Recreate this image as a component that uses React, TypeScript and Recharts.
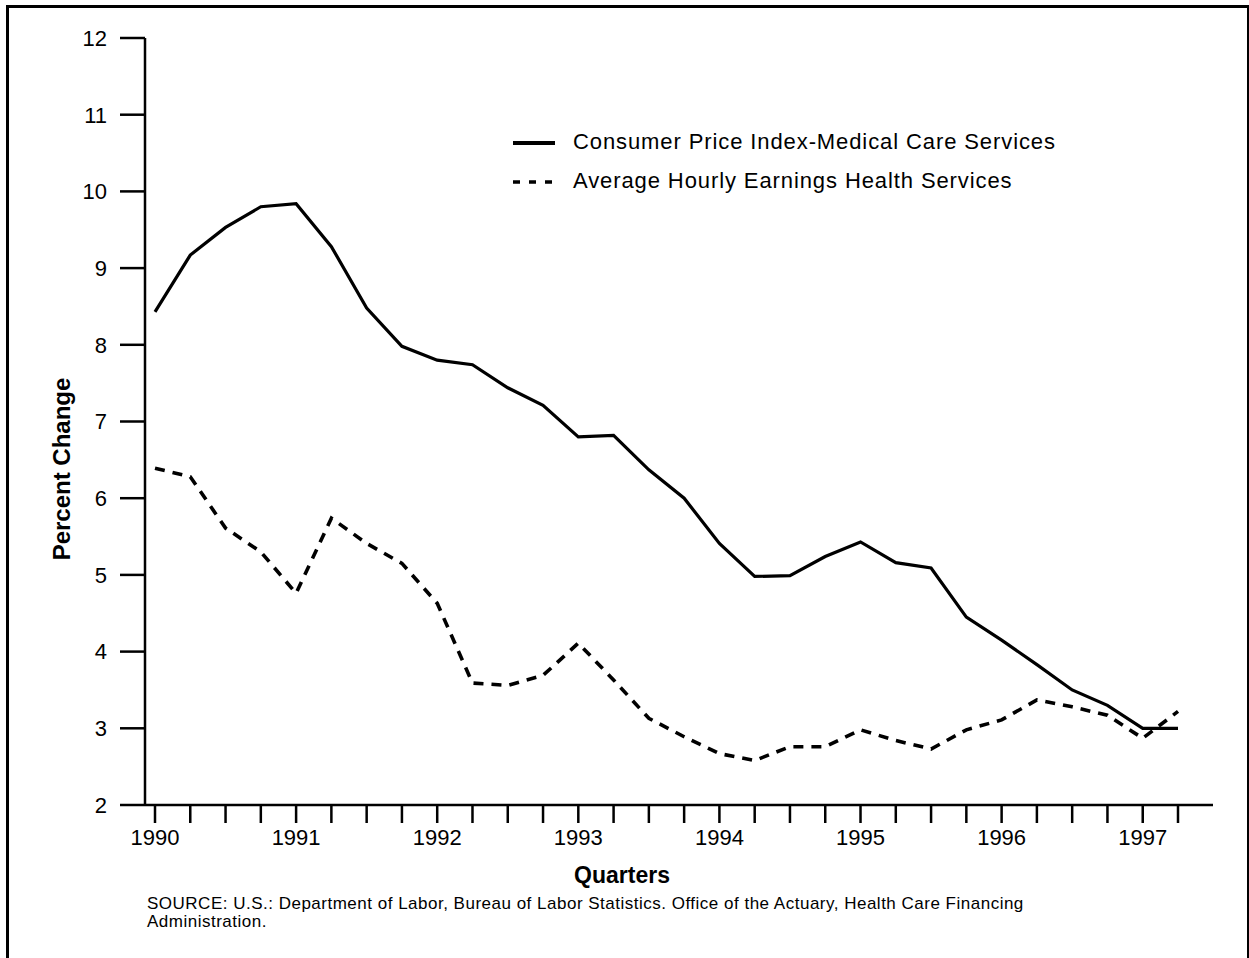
import { LineChart, Line, XAxis, YAxis } from 'recharts';

const quarters = [
  '1990 Q1', '1990 Q2', '1990 Q3', '1990 Q4',
  '1991 Q1', '1991 Q2', '1991 Q3', '1991 Q4',
  '1992 Q1', '1992 Q2', '1992 Q3', '1992 Q4',
  '1993 Q1', '1993 Q2', '1993 Q3', '1993 Q4',
  '1994 Q1', '1994 Q2', '1994 Q3', '1994 Q4',
  '1995 Q1', '1995 Q2', '1995 Q3', '1995 Q4',
  '1996 Q1', '1996 Q2', '1996 Q3', '1996 Q4',
  '1997 Q1', '1997 Q2',
];

// Consumer Price Index-Medical Care Services
const cpiMedical = [
  8.43, 9.17, 9.53, 9.8,
  9.84, 9.28, 8.48, 7.98,
  7.8, 7.74, 7.44, 7.21,
  6.8, 6.82, 6.37, 6.0,
  5.41, 4.98, 4.99, 5.24,
  5.43, 5.16, 5.09, 4.45,
  4.15, 3.83, 3.5, 3.3,
  3.0, 3.0,
];

// Average Hourly Earnings Health Services
const hourlyEarnings = [
  6.39, 6.28, 5.61, 5.3,
  4.76, 5.74, 5.41, 5.15,
  4.63, 3.59, 3.56, 3.69,
  4.11, 3.63, 3.13, 2.89,
  2.67, 2.58, 2.76, 2.76,
  2.98, 2.84, 2.73, 2.98,
  3.11, 3.37, 3.28, 3.17,
  2.87, 3.22,
];

const yTicks = [2, 3, 4, 5, 6, 7, 8, 9, 10, 11, 12];

const data = quarters.map((q, i) => ({ q, cpi: cpiMedical[i], ahe: hourlyEarnings[i] }));

const font = '"Liberation Sans", Arial, Helvetica, sans-serif';
const tick = { fill: '#000', fontSize: 22, fontFamily: font };
const axisLine = { stroke: '#000', strokeWidth: 2.5 };

export default function App() {
  return (
    <div style={{ position: 'absolute', left: 0, top: 0, width: 1249, height: 958, background: '#fff', overflow: 'hidden', fontFamily: font }}>
      <div style={{ position: 'absolute', left: 6, top: 5, width: 1238, height: 1000, borderTop: '3px solid #000', borderLeft: '3px solid #000', borderRight: '3px solid #000' }} />
      <LineChart width={1249} height={958} data={data} margin={{ top: 38, right: 36, bottom: 93, left: 0 }}>
        <XAxis
          dataKey="q"
          interval={0}
          padding={{ left: 10, right: 35 }}
          tickSize={18}
          tickMargin={6}
          height={60}
          tick={tick}
          axisLine={axisLine}
          tickLine={axisLine}
          tickFormatter={(v: string) => (v.endsWith('Q1') ? v.slice(0, 4) : '')}
        />
        <YAxis
          domain={[2, 12]}
          ticks={yTicks}
          interval={0}
          width={145}
          tickSize={25}
          tickMargin={13}
          tick={tick}
          axisLine={axisLine}
          tickLine={axisLine}
        />
        <Line dataKey="cpi" type="linear" stroke="#000" strokeWidth={3.2} dot={false} isAnimationActive={false} />
        <Line dataKey="ahe" type="linear" stroke="#000" strokeWidth={3.6} strokeDasharray="10 8" dot={false} isAnimationActive={false} />
      </LineChart>

      <svg style={{ position: 'absolute', left: 505, top: 125 }} width={60} height={70}>
        <line x1={8} x2={50} y1={18} y2={18} stroke="#000" strokeWidth={4} />
        <line x1={8} x2={50} y1={57} y2={57} stroke="#000" strokeWidth={3.5} strokeDasharray="7 9" />
      </svg>
      <div style={{ position: 'absolute', left: 573, top: 129, fontSize: 22, letterSpacing: 0.9, lineHeight: '26px', color: '#000', whiteSpace: 'nowrap' }}>
        Consumer Price Index-Medical Care Services
      </div>
      <div style={{ position: 'absolute', left: 573, top: 168, fontSize: 22, letterSpacing: 0.9, lineHeight: '26px', color: '#000', whiteSpace: 'nowrap' }}>
        Average Hourly Earnings Health Services
      </div>

      <div style={{ position: 'absolute', left: 62, top: 469, transform: 'translate(-50%, -50%) rotate(-90deg)', fontSize: 24, fontWeight: 'bold', whiteSpace: 'nowrap', color: '#000' }}>
        Percent Change
      </div>
      <div style={{ position: 'absolute', left: 622, top: 875, transform: 'translate(-50%, -50%)', fontSize: 23, fontWeight: 'bold', whiteSpace: 'nowrap', color: '#000' }}>
        Quarters
      </div>
      <div style={{ position: 'absolute', left: 147, top: 895, fontSize: 17, letterSpacing: 0.5, lineHeight: '18px', color: '#000', whiteSpace: 'nowrap' }}>
        SOURCE: U.S.: Department of Labor, Bureau of Labor Statistics. Office of the Actuary, Health Care Financing
        <br />
        Administration.
      </div>
    </div>
  );
}
